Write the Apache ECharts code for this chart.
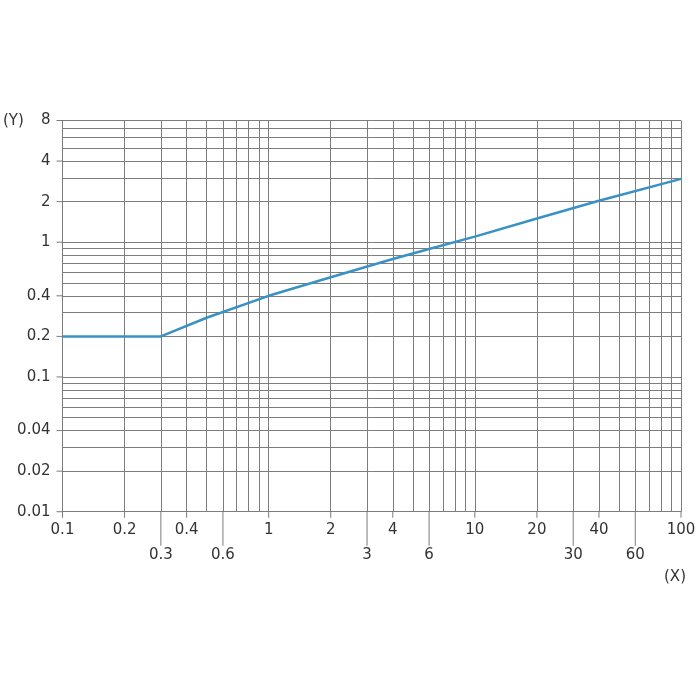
<!DOCTYPE html>
<html>
<head>
<meta charset="utf-8">
<script src="https://cdn.jsdelivr.net/npm/echarts@6/dist/echarts.min.js"></script>
<style>
html,body{margin:0;padding:0;background:#fff;}
#chart{width:700px;height:700px;}
</style>
</head>
<body>
<div id="chart"></div>
<script>
// Curve data
var curveX = [0.1, 0.3, 0.5, 1, 2, 4, 6, 10, 20, 40, 100];
var curveY = [0.2, 0.2, 0.275, 0.4, 0.55, 0.75, 0.89, 1.1, 1.5, 2.03, 2.95];

// Tick labels
var xLabelsRow1 = [0.1, 0.2, 0.4, 1, 2, 4, 10, 20, 40, 100];
var xLabelsRow2 = [0.3, 0.6, 3, 6, 30, 60];
var yLabels = [0.01, 0.02, 0.04, 0.1, 0.2, 0.4, 1, 2, 4, 8];

// Grid line positions (every 1..9 multiple per decade)
var xGrid = [0.1,0.2,0.3,0.4,0.5,0.6,0.7,0.8,0.9,1,2,3,4,5,6,7,8,9,10,20,30,40,50,60,70,80,90,100];
var yGrid = [0.01,0.02,0.03,0.04,0.05,0.06,0.07,0.08,0.09,0.1,0.2,0.3,0.4,0.5,0.6,0.7,0.8,0.9,1,2,3,4,5,6,7,8];

var FONT = 'DejaVu Sans';
var FS = 15;
var TXT = '#333';
var GRIDC = '#7d7d7d';
var TICKC = '#5a5a5a';

function fmt(v){ return String(parseFloat(Number(v).toPrecision(4))); }

var X_MIN = 0.1, X_MAX = 100, Y_MIN = 0.01, Y_MAX = 8;
var L = 62.5, R = 19, T = 120.5, B = 188.3;
var SHORT = 6, LONG = 34;

function logX(gi, o){
  var r = {type:'log', logBase:10, min:X_MIN, max:X_MAX, gridIndex:gi, position:'bottom',
    axisLine:{show:false}, axisTick:{show:false}, axisLabel:{show:false}, splitLine:{show:false}};
  for (var k in o) r[k]=o[k];
  return r;
}
function logY(gi, o){
  var r = {type:'log', logBase:10, min:Y_MIN, max:Y_MAX, gridIndex:gi, position:'left',
    axisLine:{show:false}, axisTick:{show:false}, axisLabel:{show:false}, splitLine:{show:false}};
  for (var k in o) r[k]=o[k];
  return r;
}
function hiddenVal(gi){
  return {type:'value', min:0, max:1, gridIndex:gi, show:false};
}
var labelStyle = {fontFamily:FONT, fontSize:FS, color:TXT, showMinLabel:true, showMaxLabel:true, hideOverlap:false, formatter:fmt};
function lab(vals, margin){
  var r = {show:true, customValues:vals, margin:margin};
  for (var k in labelStyle) r[k]=labelStyle[k];
  return r;
}
var split = {show:true, lineStyle:{color:GRIDC, width:1}};

function tickSeries(gi, pts, size){
  return {
    type:'scatter', xAxisIndex:gi, yAxisIndex:gi, clip:false, silent:true,
    symbol:'rect', symbolSize:size,
    itemStyle:{color:TICKC},
    data:pts
  };
}

var chart = echarts.init(document.getElementById('chart'), null, {renderer:'canvas'});
chart.setOption({
  animation:false,
  backgroundColor:'#fff',
  title:[
    {text:'(Y)', left:3, top:114, textStyle:{fontFamily:FONT, fontSize:FS, fontWeight:'normal', color:TXT}, padding:0},
    {text:'(X)', left:664, top:570, textStyle:{fontFamily:FONT, fontSize:FS, fontWeight:'normal', color:TXT}, padding:0}
  ],
  grid:[
    {left:L, right:R, top:T, bottom:B},
    {left:L, right:R, top:700-B, height:SHORT},
    {left:L, right:R, top:700-B, height:LONG},
    {left:L-SHORT, width:SHORT, top:T, bottom:B}
  ],
  xAxis:[
    logX(0, {axisLine:{show:true, lineStyle:{color:GRIDC, width:1}}, axisTick:{show:false, customValues:xGrid}, splitLine:split}),
    logX(1, {axisLabel:lab(xLabelsRow1, 5)}),
    logX(2, {axisLabel:lab(xLabelsRow2, 2)}),
    hiddenVal(3)
  ],
  yAxis:[
    logY(0, {axisLine:{show:true, lineStyle:{color:GRIDC, width:1}}, axisTick:{show:false, customValues:yGrid}, splitLine:split}),
    hiddenVal(1),
    hiddenVal(2),
    logY(3, {axisLabel:lab(yLabels, 6)})
  ],
  series:[
    {
      type:'line',
      xAxisIndex:0, yAxisIndex:0,
      data: curveX.map(function(x,i){ return [x, curveY[i]]; }),
      symbol:'none',
      smooth:false,
      lineStyle:{color:'#3a92c4', width:2.5},
      z:5
    },
    tickSeries(1, xLabelsRow1.map(function(x){ return [x, 0.5]; }), [1, SHORT]),
    tickSeries(2, xLabelsRow2.map(function(x){ return [x, 0.5]; }), [1, LONG]),
    tickSeries(3, yLabels.map(function(y){ return [0.5, y]; }), [SHORT, 1])
  ]
});
</script>
</body>
</html>
